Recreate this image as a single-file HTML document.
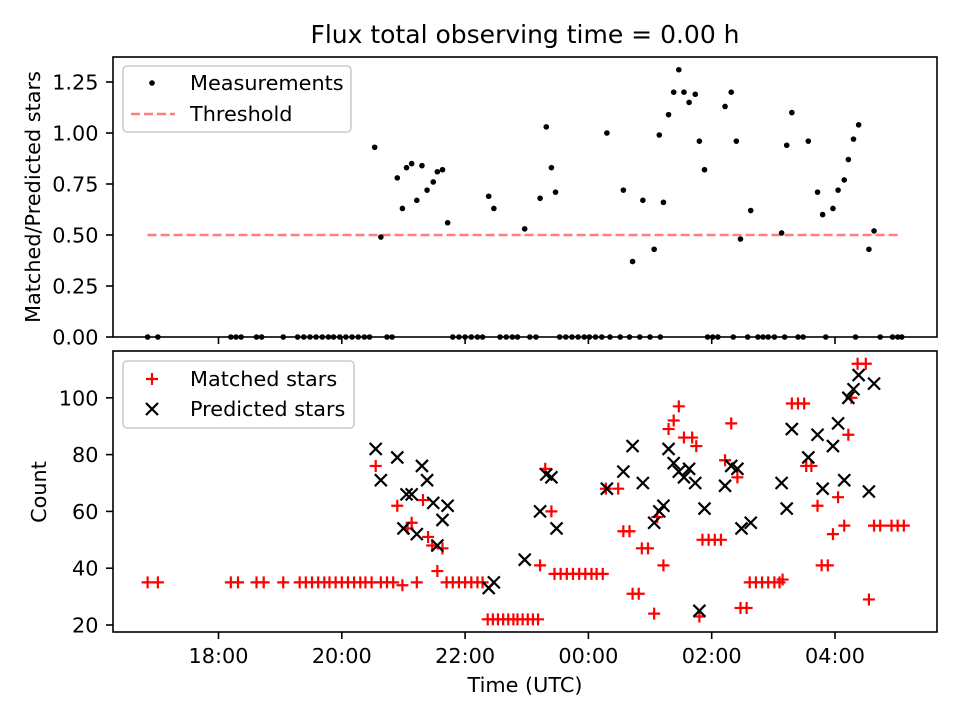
<!DOCTYPE html>
<html><head><meta charset="utf-8"><style>
body{margin:0;background:#fff}
text{font-family:"DejaVu Sans","Liberation Sans",sans-serif;fill:#000}
</style></head><body>
<svg id="c" width="960" height="720" xmlns="http://www.w3.org/2000/svg">
<text x="525" y="43" font-size="25" text-anchor="middle">Flux total observing time = 0.00 h</text>
<g id="topPanel"></g>
<g id="botPanel"></g>
</svg>
<script>
// time in minutes since 18:00 UTC
const measTimes=[-69,-59,12,17,22,37,42,63,77,83,89,95,101,107,112,118,124,130,136,142,147,152,158,164,169,174,179,183,188,193,198,203,209,213,218,223,228,234,240,246,252,257,263,268,274,280,286,291,298,303,309,313,319,324,328,332,338,344,350,356,361,367,373,378,381,391,394,400,403,410,413,420,424,429,430,433,438,443,448,453,458,464,468,473,476,481,486,493,499,501,504,508,515,518,525,530,535,541,548,551,553,558,564,569,574,583,588,591,598,603,609,613,618,620,623,633,638,644,656,661,665];
const measRatio=[0,0,0,0,0,0,0,0,0,0,0,0,0,0,0,0,0,0,0,0,0,0.93,0.49,0,0,0.78,0.63,0.83,0.85,0.67,0.84,0.72,0.76,0.81,0.82,0.56,0,0,0,0,0,0,0.69,0.63,0,0,0,0,0.53,0,0,0.68,1.03,0.83,0.71,0,0,0,0,0,0,0,0,1.00,0,0,0.72,0,0.37,0,0.67,0,0.43,0.99,0,0.66,1.09,1.20,1.31,1.20,1.15,1.19,0.96,0.82,0,0,0,1.13,1.20,0,0.96,0.48,0,0.62,0,0,0,0,0.51,0,0.94,1.10,0,0,0.96,0.71,0.60,0,0.63,0.72,0.77,0.87,0.97,0,1.04,0.43,0.52,0,0,0,0];
const thresholdValue=0.5;
const thresholdRange=[-69,665];
const matchedTimes=[-69,-59,12,19,37,44,63,79,85,91,97,103,108,114,120,126,132,138,143,149,158,164,170,153,174,188,199,204,213,218,208,184,179,193,222,228,234,240,246,252,257,262,267,272,277,282,287,291,296,301,306,311,318,324,313,327,333,339,345,351,357,363,368,374,377,389,394,400,412,418,433,403,409,424,448,443,438,453,461,465,468,508,514,499,493,505,471,477,483,489,517,523,529,535,541,546,549,558,564,570,572,577,583,587,593,598,603,609,613,616,622,630,633,638,644,655,661,667,427];
const matchedCounts=[35,35,35,35,35,35,35,35,35,35,35,35,35,35,35,35,35,35,35,35,35,35,35,76,62,56,64,51,39,47,48,54,34,35,35,35,35,35,35,35,35,22,22,22,22,22,22,22,22,22,22,22,75,60,41,38,38,38,38,38,38,38,38,38,68,68,53,53,47,47,41,31,31,24,97,92,89,86,86,83,23,26,26,91,78,72,50,50,50,50,35,35,35,35,35,35,36,98,98,98,76,76,62,41,41,52,65,55,87,100,112,112,29,55,55,55,55,55,58];
const predictedTimes=[153,174,158,198,203,183,188,209,223,218,180,193,213,268,263,298,313,319,324,329,378,394,403,413,424,429,433,438,443,448,453,458,464,473,468,493,499,505,509,518,548,553,558,574,583,588,598,603,609,613,618,623,638,633];
const predictedCounts=[82,79,71,76,71,66,66,63,62,57,54,52,48,35,33,43,60,73,72,54,68,74,83,70,56,60,62,82,77,74,72,75,70,61,25,69,76,75,54,56,70,61,89,79,87,68,83,91,71,100,103,108,105,67];
const xTickMinutes=[0,120,240,360,480,600];
const xTickLabels=["18:00","20:00","22:00","00:00","02:00","04:00"];
const topTicks=[0,0.25,0.5,0.75,1.0,1.25];
const topTickLabels=["0.00","0.25","0.50","0.75","1.00","1.25"];
const botTicks=[20,40,60,80,100];

const NS="http://www.w3.org/2000/svg";
const L=113,R=937,T1=57,B1=337,T2=351,B2=632;
const FS=20.8;
const X=m=>218.5+m*1.0275;
const Y1=v=>337-v*204;
const Y2=v=>625-(v-20)*2.84;
function mk(p,tag,a){const e=document.createElementNS(NS,tag);for(const k in a)e.setAttribute(k,a[k]);p.appendChild(e);return e;}
const topG=document.getElementById('topPanel'),botG=document.getElementById('botPanel');

function frame(g,t,b){
  const r=mk(g,'rect',{x:L,y:t,width:R-L,height:b-t,fill:'none',stroke:'#000','stroke-width':1.6});
  
  
  xTickMinutes.forEach((m,i)=>{
    const l=mk(g,'line',{x1:X(m),x2:X(m),y1:b,y2:b+7,stroke:'#000','stroke-width':1.6});
    
    
  });
}
frame(topG,T1,B1);frame(botG,T2,B2);
xTickLabels.forEach((s,i)=>{
  const t=mk(botG,'text',{x:X(xTickMinutes[i]),y:663,'font-size':FS,'text-anchor':'middle'});t.textContent=s;
  
  
});
topTicks.forEach((v,i)=>{
  const l=mk(topG,'line',{x1:L-7,x2:L,y1:Y1(v),y2:Y1(v),stroke:'#000','stroke-width':1.6});
  
  
  const t=mk(topG,'text',{x:L-14.5,y:Y1(v)+7.5,'font-size':FS,'text-anchor':'end'});t.textContent=topTickLabels[i];
  
  
});
botTicks.forEach(v=>{
  const l=mk(botG,'line',{x1:L-7,x2:L,y1:Y2(v),y2:Y2(v),stroke:'#000','stroke-width':1.6});
  
  
  const t=mk(botG,'text',{x:L-14.5,y:Y2(v)+7.5,'font-size':FS,'text-anchor':'end'});t.textContent=v;
  
  
});
let t=mk(topG,'text',{x:0,y:0,'font-size':FS,'text-anchor':'middle',transform:'translate(40,197) rotate(-90)'});t.textContent='Matched/Predicted stars';


t=mk(botG,'text',{x:0,y:0,'font-size':FS,'text-anchor':'middle',transform:'translate(46,492) rotate(-90)'});t.textContent='Count';


t=mk(botG,'text',{x:525,y:692,'font-size':FS,'text-anchor':'middle'});t.textContent='Time (UTC)';



const th=mk(topG,'line',{x1:X(thresholdRange[0]),x2:X(thresholdRange[1]),y1:Y1(thresholdValue),y2:Y1(thresholdValue),stroke:'#ff7f7f','stroke-width':2.5,'stroke-dasharray':'9,4'});


measTimes.forEach((m,i)=>{
  const c=mk(topG,'circle',{cx:X(m),cy:Y1(measRatio[i]),r:2.8,fill:'#000'});
  
  
});
function plus(g,x,y){return mk(g,'path',{d:`M${x-6},${y}H${x+6}M${x},${y-6}V${y+6}`,stroke:'#f00','stroke-width':2.2,fill:'none'});}
function cross(g,x,y){return mk(g,'path',{d:`M${x-6},${y-6}L${x+6},${y+6}M${x-6},${y+6}L${x+6},${y-6}`,stroke:'#000','stroke-width':2.2,fill:'none'});}
matchedTimes.forEach((m,i)=>{
  const p=plus(botG,X(m),Y2(matchedCounts[i]));
  
  
});
predictedTimes.forEach((m,i)=>{
  const p=cross(botG,X(m),Y2(predictedCounts[i]));
  
  
});

let lg=mk(topG,'g',{});


mk(lg,'rect',{x:123,y:66,width:228,height:66,rx:4,fill:'#fff','fill-opacity':0.8,stroke:'#ccc','stroke-width':1.6});
mk(lg,'circle',{cx:152,cy:83,r:2.8,fill:'#000'});
t=mk(lg,'text',{x:190,y:90,'font-size':FS});t.textContent='Measurements';
mk(lg,'line',{x1:131,x2:175,y1:114,y2:114,stroke:'#ff7f7f','stroke-width':2.5,'stroke-dasharray':'9,4'});
t=mk(lg,'text',{x:190,y:121,'font-size':FS});t.textContent='Threshold';
lg=mk(botG,'g',{});


mk(lg,'rect',{x:123,y:361,width:231,height:67,rx:4,fill:'#fff','fill-opacity':0.8,stroke:'#ccc','stroke-width':1.6});
plus(lg,152,379);
t=mk(lg,'text',{x:190,y:386,'font-size':FS});t.textContent='Matched stars';
cross(lg,152,409);
t=mk(lg,'text',{x:190,y:416,'font-size':FS});t.textContent='Predicted stars';
</script>
</body></html>
